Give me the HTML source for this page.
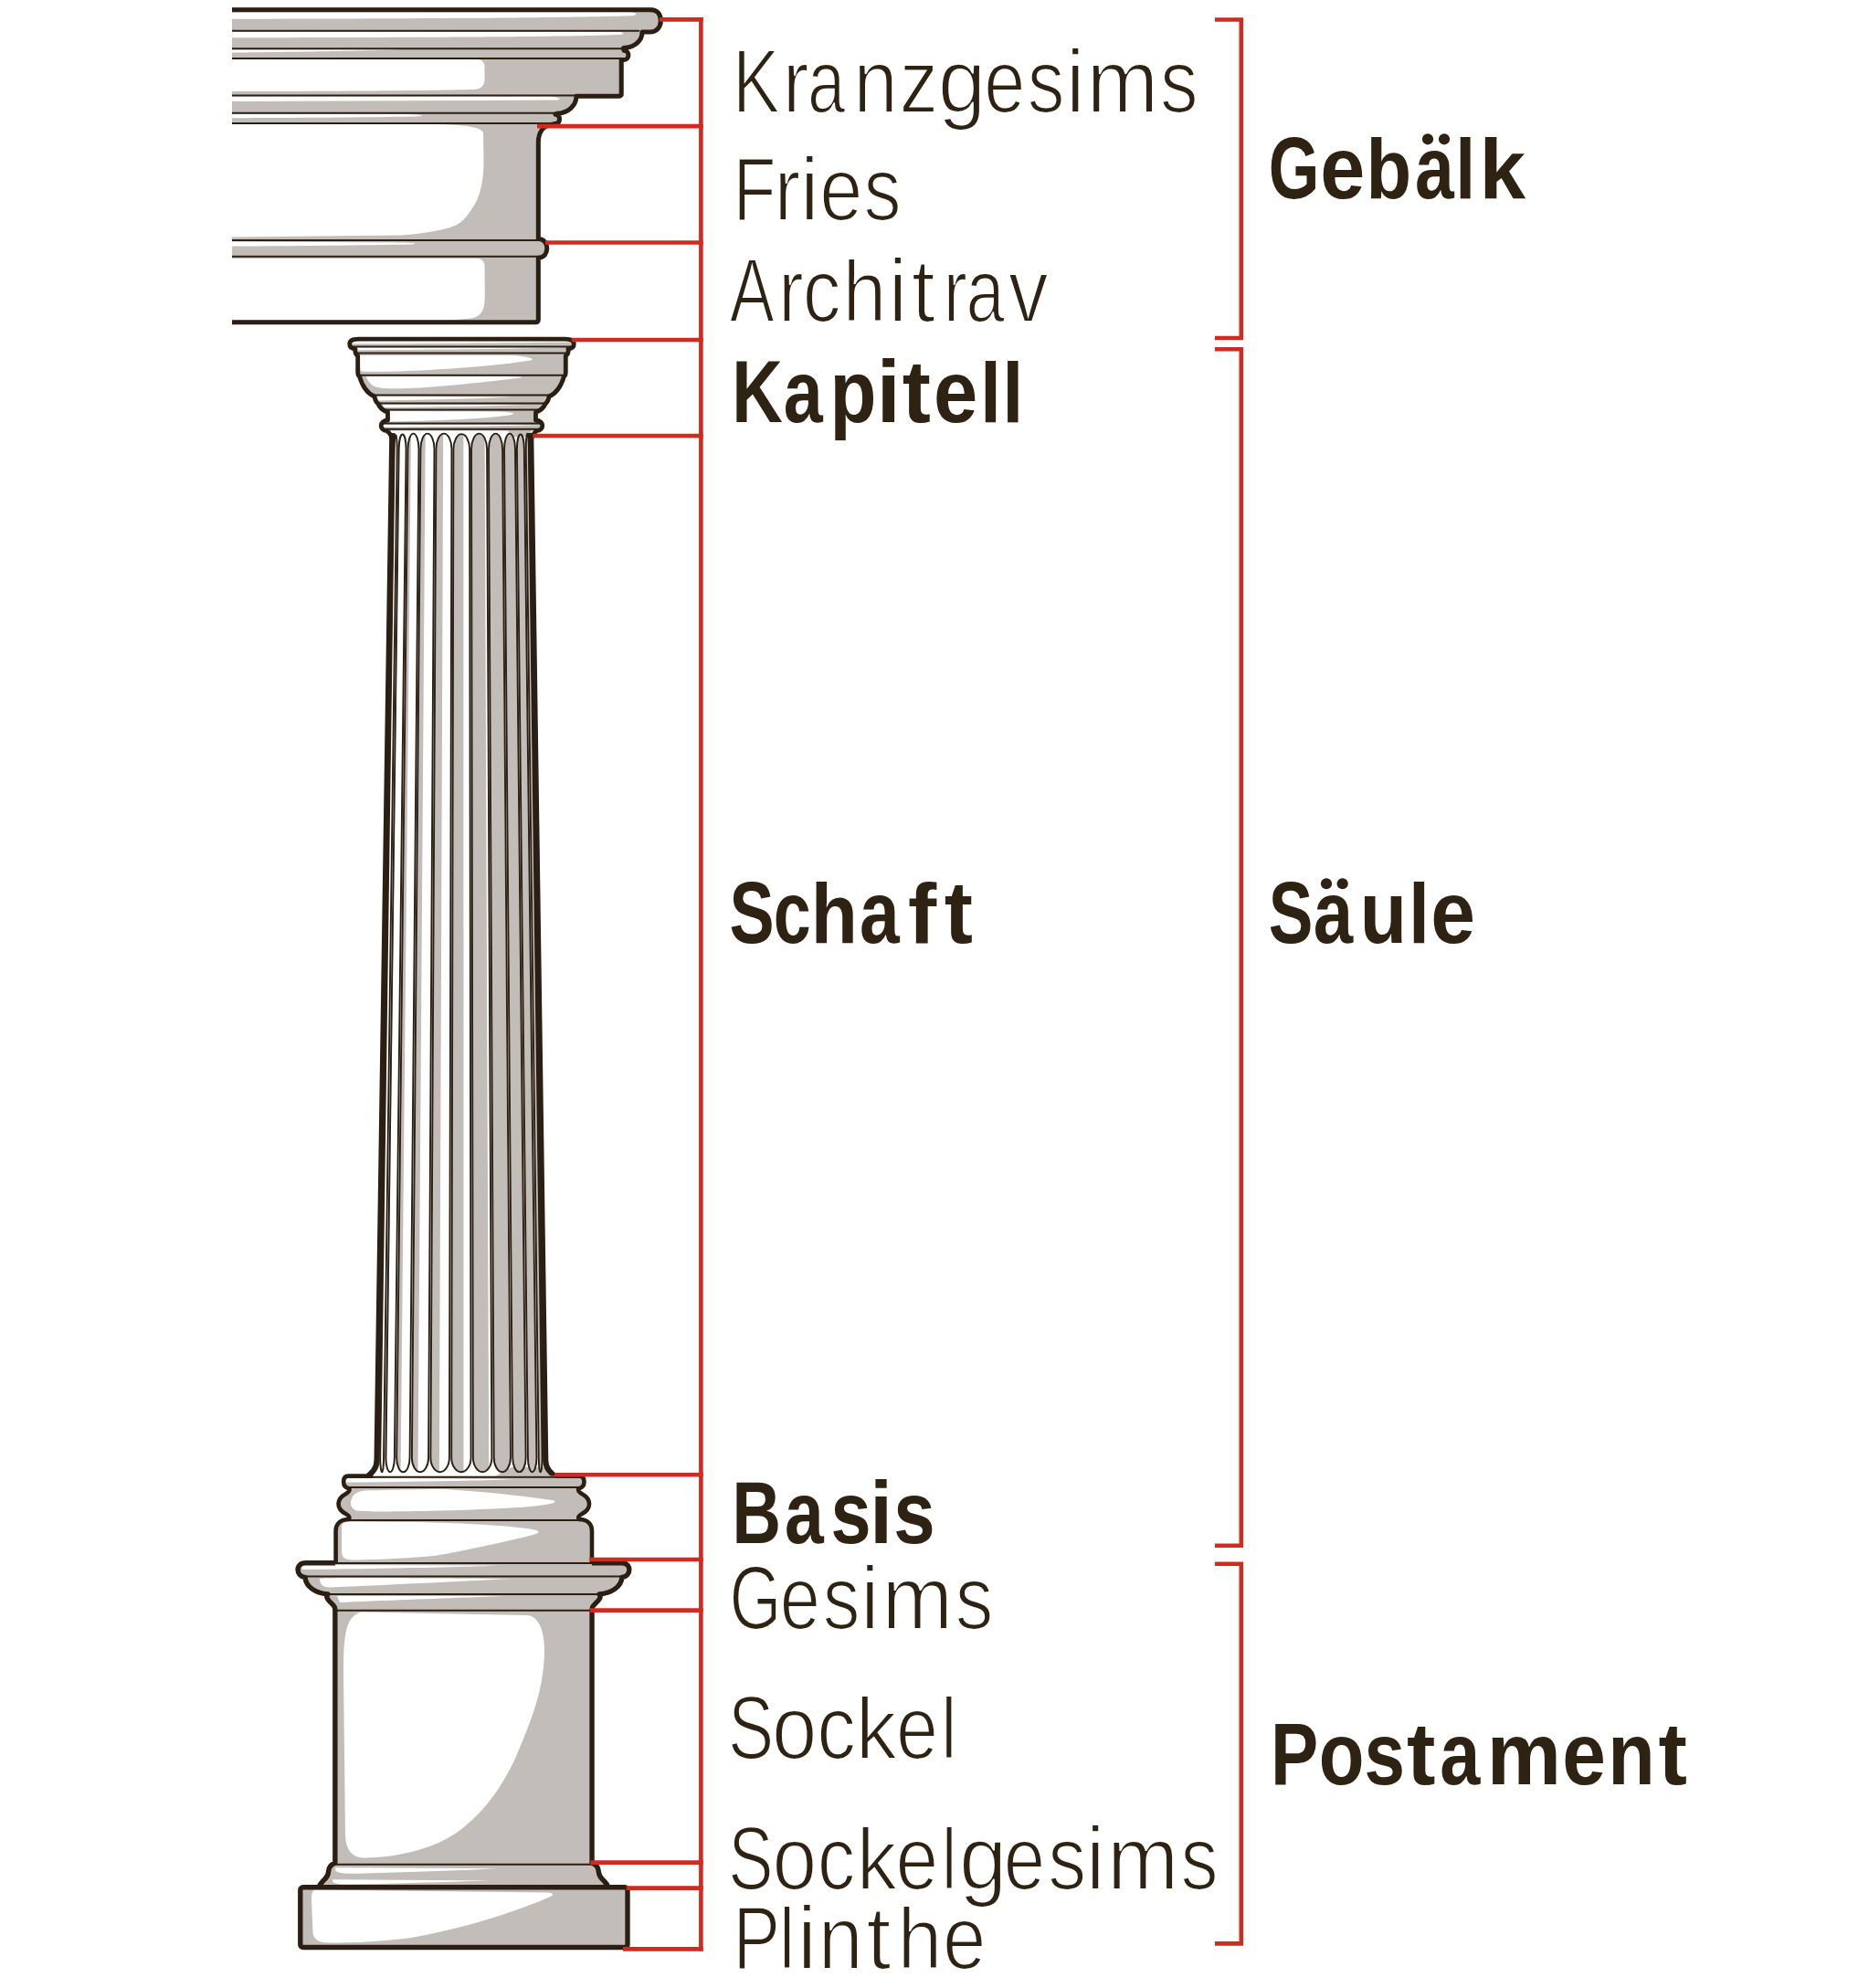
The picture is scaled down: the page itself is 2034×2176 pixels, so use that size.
<!DOCTYPE html><html><head><meta charset="utf-8"><style>html,body{margin:0;padding:0;background:#fff;}svg{display:block;}</style></head><body><svg width="2034" height="2176" viewBox="0 0 2034 2176">
<defs><clipPath id="cEnt"><path d="M254 8 L712 8 C721 8 726 15 726 22.5 C726 30 721 36.5 712 36.5 L705 36.5 C705 46 696 54 684 54.5 L685 54.5 C691 54.5 691 67 685 67 L682.5 67 L682.5 103 Q682.5 107.5 678 107.5 L632.5 107.5 C632 118 623 125.5 611 126 C616.5 126 616.5 137.5 608 137.5 L604 138 C596 139.5 591.5 146 591.5 156 L591.5 261 C604 261 604 283.5 591.5 283.5 L591.5 351 Q591.5 355 587 355 L254 355 Z"/></clipPath></defs>
<path d="M254 8 L712 8 C721 8 726 15 726 22.5 C726 30 721 36.5 712 36.5 L705 36.5 C705 46 696 54 684 54.5 L685 54.5 C691 54.5 691 67 685 67 L682.5 67 L682.5 103 Q682.5 107.5 678 107.5 L632.5 107.5 C632 118 623 125.5 611 126 C616.5 126 616.5 137.5 608 137.5 L604 138 C596 139.5 591.5 146 591.5 156 L591.5 261 C604 261 604 283.5 591.5 283.5 L591.5 351 Q591.5 355 587 355 L254 355 Z" fill="#c2bdb8"/>
<g clip-path="url(#cEnt)" fill="#fff">
<path d="M254 13.2 L690 13.2 C698 14 698 16.5 692 17.2 C650 18.5 560 20.3 254 20.8 Z"/>
<path d="M254 34.6 L676 34.8 C684 35.5 684 37.5 678 38 C640 39.5 560 41 254 41.2 Z"/>
<path d="M254 54.2 L440 54.2 C420 55.5 300 57 254 57.5 Z"/>
<path d="M254 65 L522 65 Q530 65 530.5 73 L530.5 88 Q530 97.5 519 98 C450 99.5 300 100 254 100 Z"/>
<path d="M254 105.5 L600 105.5 C612 106.5 616 108.5 610 109.5 L254 111 Z"/>
<path d="M254 124.8 L440 125 C460 125.5 470 126.5 455 127.5 C400 128.5 320 129 254 129.2 Z"/>
<path d="M254 136 L480 136 C510 137 527 139 529 145 L529.5 180 C529 200 525 215 520 223 C515 232 508 242 500 246 C490 251 470 255 440 257.5 L254 259.5 Z"/>
<path d="M254 264.5 L440 265.5 C455 266 458 266.5 450 267.5 C400 268.5 320 269.3 254 269.5 Z"/>
<path d="M254 283 L522 283 Q530 283 530.5 291 L530.8 325 C530.5 338 528 345 518 348 C505 350 490 350.3 470 350.5 L254 350.5 Z"/>
</g>
<g stroke="#2b1f14" stroke-width="2" clip-path="url(#cEnt)">
<line x1="250" y1="33.8" x2="700" y2="33.8"/>
<line x1="250" y1="53.2" x2="700" y2="53.2"/>
<line x1="250" y1="64.0" x2="700" y2="64.0"/>
<line x1="250" y1="104.5" x2="700" y2="104.5"/>
<line x1="250" y1="123.7" x2="700" y2="123.7"/>
<line x1="250" y1="134.9" x2="700" y2="134.9"/>
<line x1="250" y1="263.0" x2="700" y2="263.0"/>
<line x1="250" y1="280.8" x2="700" y2="280.8"/>
</g>
<path d="M254 10.7 L712 10.7 C719.5 10.7 723.3 15.5 723.3 22.5 C723.3 29.5 719 35 712 35 L703 35 C703 44.5 695 52 682.5 52.5 L683 55.3 C689.5 55.3 689.5 65.5 683 65.5 L680.2 65.8 L680.2 102 Q680.2 105.3 677 105.3 L631 105.3 C630.5 116 622 123.5 609.5 124.3 L608 125.2 C614 125.2 614 135.5 608 135.5 L604 136.3 C595 137.5 589.3 144.5 589.3 156 L589.3 261.5 C602 261.5 602 282.2 589.3 282.2 L589.3 349.5 Q589.3 352.8 586 352.8 L254 352.8" fill="none" stroke="#2b1f14" stroke-width="5" stroke-linejoin="round"/>
<defs><clipPath id="cShaft"><path d="M429.36 470 L581.14 470 L597.20 1598.00 C597.20 1607 602 1611 608 1616.5 L402 1616.5 C408 1611 412.58 1607 412.58 1598.00 Z"/></clipPath></defs>
<path d="M429.36 470 L581.14 470 L597.20 1598.00 C597.20 1607 602 1611 608 1616.5 L402 1616.5 C408 1611 412.58 1607 412.58 1598.00 Z" fill="#fff"/>
<g clip-path="url(#cShaft)" fill="#c2bdb8">
<path d="M555 470 L600 470 L600 478 L560 478 Z"/>
<path d="M560 1606 L615 1606 L615 1617 L540 1617 Z"/>
</g>
<defs><clipPath id="cf0"><path d="M431.59 491.60 A1.59 17.00 0 0 1 434.76 491.60 L420.04 1595.20 A1.91 16.00 0 0 1 416.22 1595.20 Z"/></clipPath></defs>
<path d="M431.59 491.60 A1.59 17.00 0 0 1 434.76 491.60 L420.04 1595.20 A1.91 16.00 0 0 1 416.22 1595.20 Z" fill="#fff"/>
<path d="M431.59 491.60 A1.59 17.00 0 0 1 434.76 491.60 L420.04 1595.20 A1.91 16.00 0 0 1 416.22 1595.20 Z" fill="none" stroke="#2b1f14" stroke-width="1.9"/>
<defs><clipPath id="cf1"><path d="M436.67 491.60 A3.96 17.00 0 0 1 444.58 491.60 L431.86 1595.20 A4.76 16.00 0 0 1 422.34 1595.20 Z"/></clipPath></defs>
<path d="M436.67 491.60 A3.96 17.00 0 0 1 444.58 491.60 L431.86 1595.20 A4.76 16.00 0 0 1 422.34 1595.20 Z" fill="#fff"/>
<path clip-path="url(#cf1)" d="M431.67 460 L437.46 460 L423.29 1620 L417.34 1620 Z" fill="#c2bdb8"/>
<path d="M436.67 491.60 A3.96 17.00 0 0 1 444.58 491.60 L431.86 1595.20 A4.76 16.00 0 0 1 422.34 1595.20 Z" fill="none" stroke="#2b1f14" stroke-width="1.9"/>
<defs><clipPath id="cf2"><path d="M446.50 491.60 A5.99 17.00 0 0 1 458.48 491.60 L448.59 1595.20 A7.21 16.00 0 0 1 434.16 1595.20 Z"/></clipPath></defs>
<path d="M446.50 491.60 A5.99 17.00 0 0 1 458.48 491.60 L448.59 1595.20 A7.21 16.00 0 0 1 434.16 1595.20 Z" fill="#fff"/>
<path clip-path="url(#cf2)" d="M441.50 460 L450.09 460 L438.49 1620 L429.16 1620 Z" fill="#c2bdb8"/>
<path d="M446.50 491.60 A5.99 17.00 0 0 1 458.48 491.60 L448.59 1595.20 A7.21 16.00 0 0 1 434.16 1595.20 Z" fill="none" stroke="#2b1f14" stroke-width="1.9"/>
<defs><clipPath id="cf3"><path d="M460.39 491.60 A7.55 17.00 0 0 1 475.49 491.60 L469.07 1595.20 A9.09 16.00 0 0 1 450.89 1595.20 Z"/></clipPath></defs>
<path d="M460.39 491.60 A7.55 17.00 0 0 1 475.49 491.60 L469.07 1595.20 A9.09 16.00 0 0 1 450.89 1595.20 Z" fill="#fff"/>
<path clip-path="url(#cf3)" d="M455.39 460 L465.82 460 L457.43 1620 L445.89 1620 Z" fill="#c2bdb8"/>
<path d="M460.39 491.60 A7.55 17.00 0 0 1 475.49 491.60 L469.07 1595.20 A9.09 16.00 0 0 1 450.89 1595.20 Z" fill="none" stroke="#2b1f14" stroke-width="1.9"/>
<defs><clipPath id="cf4"><path d="M477.40 491.60 A8.53 17.00 0 0 1 494.47 491.60 L491.92 1595.20 A10.27 16.00 0 0 1 471.37 1595.20 Z"/></clipPath></defs>
<path d="M477.40 491.60 A8.53 17.00 0 0 1 494.47 491.60 L491.92 1595.20 A10.27 16.00 0 0 1 471.37 1595.20 Z" fill="#fff"/>
<path clip-path="url(#cf4)" d="M472.40 460 L485.25 460 L480.82 1620 L466.37 1620 Z" fill="#c2bdb8"/>
<path d="M477.40 491.60 A8.53 17.00 0 0 1 494.47 491.60 L491.92 1595.20 A10.27 16.00 0 0 1 471.37 1595.20 Z" fill="none" stroke="#2b1f14" stroke-width="1.9"/>
<defs><clipPath id="cf5"><path d="M496.38 491.60 A8.87 17.00 0 0 1 514.11 491.60 L515.57 1595.20 A10.67 16.00 0 0 1 494.22 1595.20 Z"/></clipPath></defs>
<path d="M496.38 491.60 A8.87 17.00 0 0 1 514.11 491.60 L515.57 1595.20 A10.67 16.00 0 0 1 494.22 1595.20 Z" fill="#fff"/>
<path clip-path="url(#cf5)" d="M491.38 460 L507.37 460 L507.45 1620 L489.22 1620 Z" fill="#c2bdb8"/>
<path d="M496.38 491.60 A8.87 17.00 0 0 1 514.11 491.60 L515.57 1595.20 A10.67 16.00 0 0 1 494.22 1595.20 Z" fill="none" stroke="#2b1f14" stroke-width="1.9"/>
<defs><clipPath id="cf6"><path d="M516.03 491.60 A8.53 17.00 0 0 1 533.09 491.60 L538.41 1595.20 A10.27 16.00 0 0 1 517.87 1595.20 Z"/></clipPath></defs>
<path d="M516.03 491.60 A8.53 17.00 0 0 1 533.09 491.60 L538.41 1595.20 A10.27 16.00 0 0 1 517.87 1595.20 Z" fill="#fff"/>
<path clip-path="url(#cf6)" d="M511.03 460 L530.53 460 L535.33 1620 L512.87 1620 Z" fill="#c2bdb8"/>
<path d="M516.03 491.60 A8.53 17.00 0 0 1 533.09 491.60 L538.41 1595.20 A10.27 16.00 0 0 1 517.87 1595.20 Z" fill="none" stroke="#2b1f14" stroke-width="1.9"/>
<defs><clipPath id="cf7"><path d="M535.00 491.60 A7.55 17.00 0 0 1 550.10 491.60 L558.89 1595.20 A9.09 16.00 0 0 1 540.71 1595.20 Z"/></clipPath></defs>
<path d="M535.00 491.60 A7.55 17.00 0 0 1 550.10 491.60 L558.89 1595.20 A9.09 16.00 0 0 1 540.71 1595.20 Z" fill="#fff"/>
<path clip-path="url(#cf7)" d="M530.00 460 L549.35 460 L557.99 1620 L535.71 1620 Z" fill="#c2bdb8"/>
<path d="M535.00 491.60 A7.55 17.00 0 0 1 550.10 491.60 L558.89 1595.20 A9.09 16.00 0 0 1 540.71 1595.20 Z" fill="none" stroke="#2b1f14" stroke-width="1.9"/>
<defs><clipPath id="cf8"><path d="M552.02 491.60 A5.99 17.00 0 0 1 564.00 491.60 L575.62 1595.20 A7.21 16.00 0 0 1 561.20 1595.20 Z"/></clipPath></defs>
<path d="M552.02 491.60 A5.99 17.00 0 0 1 564.00 491.60 L575.62 1595.20 A7.21 16.00 0 0 1 561.20 1595.20 Z" fill="#fff"/>
<path clip-path="url(#cf8)" d="M547.02 460 L564.00 460 L575.62 1620 L556.20 1620 Z" fill="#c2bdb8"/>
<path d="M552.02 491.60 A5.99 17.00 0 0 1 564.00 491.60 L575.62 1595.20 A7.21 16.00 0 0 1 561.20 1595.20 Z" fill="none" stroke="#2b1f14" stroke-width="1.9"/>
<defs><clipPath id="cf9"><path d="M565.91 491.60 A3.96 17.00 0 0 1 573.82 491.60 L587.44 1595.20 A4.76 16.00 0 0 1 577.92 1595.20 Z"/></clipPath></defs>
<path d="M565.91 491.60 A3.96 17.00 0 0 1 573.82 491.60 L587.44 1595.20 A4.76 16.00 0 0 1 577.92 1595.20 Z" fill="#fff"/>
<path clip-path="url(#cf9)" d="M560.91 460 L573.82 460 L587.44 1620 L572.92 1620 Z" fill="#c2bdb8"/>
<path d="M565.91 491.60 A3.96 17.00 0 0 1 573.82 491.60 L587.44 1595.20 A4.76 16.00 0 0 1 577.92 1595.20 Z" fill="none" stroke="#2b1f14" stroke-width="1.9"/>
<defs><clipPath id="cf10"><path d="M575.73 491.60 A1.59 17.00 0 0 1 578.91 491.60 L593.57 1595.20 A1.91 16.00 0 0 1 589.75 1595.20 Z"/></clipPath></defs>
<path d="M575.73 491.60 A1.59 17.00 0 0 1 578.91 491.60 L593.57 1595.20 A1.91 16.00 0 0 1 589.75 1595.20 Z" fill="#fff"/>
<path clip-path="url(#cf10)" d="M570.73 460 L578.91 460 L593.57 1620 L584.75 1620 Z" fill="#c2bdb8"/>
<path d="M575.73 491.60 A1.59 17.00 0 0 1 578.91 491.60 L593.57 1595.20 A1.91 16.00 0 0 1 589.75 1595.20 Z" fill="none" stroke="#2b1f14" stroke-width="1.9"/>
<path d="M581.14 474 L597.20 1598.00 C597.20 1607 602 1611 607 1615.5" fill="none" stroke="#2b1f14" stroke-width="6.2"/>
<path d="M429.36 474 L412.58 1598.00 C412.58 1607 408 1611 403 1615.5" fill="none" stroke="#2b1f14" stroke-width="6.2"/>
<defs><clipPath id="cCap"><path d="M505.50 371.10 L618.50 371.10 C626.50 371.10 628.30 374.00 628.30 376.50 C628.30 379.50 626.00 381.50 622.00 382.00 C622.50 384.50 622.00 387.50 619.30 389.50 L619.30 407.00 C619.30 410.00 618.50 411.50 617.50 412.00 C614.50 422.00 609.50 430.50 601.00 434.00 C600.50 437.00 599.00 440.50 597.00 442.00 C596.00 444.50 593.50 448.00 588.50 450.50 L586.50 451.00 L586.50 460.00 C591.50 460.30 593.80 463.00 593.80 466.00 C593.80 469.00 591.50 471.30 587.50 471.60 L423.50 471.60 C419.50 471.30 417.20 469.00 417.20 466.00 C417.20 463.00 419.50 460.30 424.50 460.00 L424.50 451.00 L422.50 450.50 C417.50 448.00 415.00 444.50 414.00 442.00 C412.00 440.50 410.50 437.00 410.00 434.00 C401.50 430.50 396.50 422.00 393.50 412.00 C392.50 411.50 391.70 410.00 391.70 407.00 L391.70 389.50 C389.00 387.50 388.50 384.50 389.00 382.00 C385.00 381.50 382.70 379.50 382.70 376.50 C382.70 374.00 384.50 371.10 392.50 371.10 L505.50 371.10 Z"/></clipPath></defs>
<path d="M505.50 371.10 L618.50 371.10 C626.50 371.10 628.30 374.00 628.30 376.50 C628.30 379.50 626.00 381.50 622.00 382.00 C622.50 384.50 622.00 387.50 619.30 389.50 L619.30 407.00 C619.30 410.00 618.50 411.50 617.50 412.00 C614.50 422.00 609.50 430.50 601.00 434.00 C600.50 437.00 599.00 440.50 597.00 442.00 C596.00 444.50 593.50 448.00 588.50 450.50 L586.50 451.00 L586.50 460.00 C591.50 460.30 593.80 463.00 593.80 466.00 C593.80 469.00 591.50 471.30 587.50 471.60 L423.50 471.60 C419.50 471.30 417.20 469.00 417.20 466.00 C417.20 463.00 419.50 460.30 424.50 460.00 L424.50 451.00 L422.50 450.50 C417.50 448.00 415.00 444.50 414.00 442.00 C412.00 440.50 410.50 437.00 410.00 434.00 C401.50 430.50 396.50 422.00 393.50 412.00 C392.50 411.50 391.70 410.00 391.70 407.00 L391.70 389.50 C389.00 387.50 388.50 384.50 389.00 382.00 C385.00 381.50 382.70 379.50 382.70 376.50 C382.70 374.00 384.50 371.10 392.50 371.10 L505.50 371.10 Z" fill="#c2bdb8"/>
<g clip-path="url(#cCap)" fill="#fff">
<path d="M380 372.5 L628 372.5 L628 374.5 C560 375.5 450 376 380 376.3 Z"/>
<path d="M385 379.8 L625 380 C600 381.5 470 382.8 385 383.3 Z"/>
<path d="M394 389 L560 389 C575 390 585 392 582 394.2 C560 398 520 402 470 405 C430 407 400 407.5 395 406 C393 400 393 392 394 389 Z"/>
<path d="M401 412 L560 412 C572 412.5 574 413 570 413.5 C540 417 500 422 460 424.5 C430 426 415 425.5 409 422.5 C404 419 402 415 401 412 Z"/>
<path d="M412 433.5 L559 434.5 C540 436 480 437.5 414 438.5 Z"/>
<path d="M419 442.5 L575 443 C540 444.5 480 445.5 420 446 Z"/>
<path d="M425 450 L545 450.5 C560 451 566 452.5 560 454 C540 457.5 500 460 426 461.5 Z"/>
<path d="M417 464.5 L590 465 C560 466.5 480 467 417 467.5 Z"/>
</g>
<g stroke="#2b1f14" stroke-width="2" clip-path="url(#cCap)">
<line x1="370" y1="379.5" x2="640" y2="379.5"/>
<line x1="370" y1="386.6" x2="640" y2="386.6"/>
<line x1="370" y1="410.8" x2="640" y2="410.8"/>
<line x1="370" y1="432.6" x2="640" y2="432.6"/>
<line x1="370" y1="441.6" x2="640" y2="441.6"/>
<line x1="370" y1="448.5" x2="640" y2="448.5"/>
<line x1="370" y1="463.5" x2="640" y2="463.5"/>
<line x1="370" y1="469.8" x2="640" y2="469.8"/>
</g>
<path d="M428.80 480.00 C428.50 476.00 426.00 473.50 423.50 471.60 C419.50 471.30 417.20 469.00 417.20 466.00 C417.20 463.00 419.50 460.30 424.50 460.00 L424.50 451.00 L422.50 450.50 C417.50 448.00 415.00 444.50 414.00 442.00 C412.00 440.50 410.50 437.00 410.00 434.00 C401.50 430.50 396.50 422.00 393.50 412.00 C392.50 411.50 391.70 410.00 391.70 407.00 L391.70 389.50 C389.00 387.50 388.50 384.50 389.00 382.00 C385.00 381.50 382.70 379.50 382.70 376.50 C382.70 374.00 384.50 371.10 392.50 371.10 L505.50 371.10 L505.50 371.10 L618.50 371.10 C626.50 371.10 628.30 374.00 628.30 376.50 C628.30 379.50 626.00 381.50 622.00 382.00 C622.50 384.50 622.00 387.50 619.30 389.50 L619.30 407.00 C619.30 410.00 618.50 411.50 617.50 412.00 C614.50 422.00 609.50 430.50 601.00 434.00 C600.50 437.00 599.00 440.50 597.00 442.00 C596.00 444.50 593.50 448.00 588.50 450.50 L586.50 451.00 L586.50 460.00 C591.50 460.30 593.80 463.00 593.80 466.00 C593.80 469.00 591.50 471.30 587.50 471.60 C585.00 473.50 582.50 476.00 582.20 480.00" fill="none" stroke="#2b1f14" stroke-width="4.8" stroke-linejoin="round"/>
<defs><clipPath id="cBase"><path d="M507.80 1615.60 L634.30 1615.60 C638.30 1615.60 639.50 1618.50 639.50 1622.00 C639.50 1626.00 637.30 1628.50 633.30 1629.50 C632.30 1631.50 633.80 1633.00 636.80 1635.00 C643.30 1638.50 645.10 1642.00 645.10 1646.00 C645.10 1651.00 641.30 1655.00 636.30 1657.50 C633.30 1659.00 632.60 1661.00 633.80 1663.00 C642.80 1663.00 648.00 1668.00 648.00 1676.00 L648.00 1710.80 L367.60 1710.80 L367.60 1676.00 C367.60 1668.00 372.80 1663.00 381.80 1663.00 C383.00 1661.00 382.30 1659.00 379.30 1657.50 C374.30 1655.00 370.50 1651.00 370.50 1646.00 C370.50 1642.00 372.30 1638.50 378.80 1635.00 C381.80 1633.00 383.30 1631.50 382.30 1629.50 C378.30 1628.50 376.10 1626.00 376.10 1622.00 C376.10 1618.50 377.30 1615.60 381.30 1615.60 L507.80 1615.60 Z"/></clipPath></defs>
<path d="M507.80 1615.60 L634.30 1615.60 C638.30 1615.60 639.50 1618.50 639.50 1622.00 C639.50 1626.00 637.30 1628.50 633.30 1629.50 C632.30 1631.50 633.80 1633.00 636.80 1635.00 C643.30 1638.50 645.10 1642.00 645.10 1646.00 C645.10 1651.00 641.30 1655.00 636.30 1657.50 C633.30 1659.00 632.60 1661.00 633.80 1663.00 C642.80 1663.00 648.00 1668.00 648.00 1676.00 L648.00 1710.80 L367.60 1710.80 L367.60 1676.00 C367.60 1668.00 372.80 1663.00 381.80 1663.00 C383.00 1661.00 382.30 1659.00 379.30 1657.50 C374.30 1655.00 370.50 1651.00 370.50 1646.00 C370.50 1642.00 372.30 1638.50 378.80 1635.00 C381.80 1633.00 383.30 1631.50 382.30 1629.50 C378.30 1628.50 376.10 1626.00 376.10 1622.00 C376.10 1618.50 377.30 1615.60 381.30 1615.60 L507.80 1615.60 Z" fill="#c2bdb8"/>
<g clip-path="url(#cBase)" fill="#fff">
<path d="M376 1617.5 L564 1619 C520 1621 450 1622 377 1622.5 Z"/>
<path d="M384 1646 C384 1637 390 1632 400 1631.5 C440 1630.5 470 1630 485 1630 C520 1632 570 1637 604 1642 C610 1643 608 1645 602 1646 C590 1649.5 540 1652 480 1653.5 C440 1654.5 400 1655 390 1653.5 C386 1652 384 1649 384 1646 Z"/>
<path d="M374 1672 C374 1667 377 1665.5 382 1665.5 L450 1666 C500 1667 550 1669 580 1673.5 C592 1675.5 592 1678 585 1679.5 C560 1686 520 1695 477 1702.8 C440 1706.5 400 1707.5 385 1707.5 C377 1707.5 374 1704 374 1698 Z"/>
</g>
<g stroke="#2b1f14" stroke-width="2" clip-path="url(#cBase)">
<line x1="350" y1="1616.8" x2="660" y2="1616.8"/>
<line x1="350" y1="1628.0" x2="660" y2="1628.0"/>
<line x1="350" y1="1664.0" x2="660" y2="1664.0"/>
</g>
<path d="M367.60 1710.80 L367.60 1676.00 C367.60 1668.00 372.80 1663.00 381.80 1663.00 C383.00 1661.00 382.30 1659.00 379.30 1657.50 C374.30 1655.00 370.50 1651.00 370.50 1646.00 C370.50 1642.00 372.30 1638.50 378.80 1635.00 C381.80 1633.00 383.30 1631.50 382.30 1629.50 C378.30 1628.50 376.10 1626.00 376.10 1622.00 C376.10 1618.50 377.30 1615.60 381.30 1615.60 L408.30 1615.60 M607.30 1615.60 L634.30 1615.60 C638.30 1615.60 639.50 1618.50 639.50 1622.00 C639.50 1626.00 637.30 1628.50 633.30 1629.50 C632.30 1631.50 633.80 1633.00 636.80 1635.00 C643.30 1638.50 645.10 1642.00 645.10 1646.00 C645.10 1651.00 641.30 1655.00 636.30 1657.50 C633.30 1659.00 632.60 1661.00 633.80 1663.00 C642.80 1663.00 648.00 1668.00 648.00 1676.00 L648.00 1710.80" fill="none" stroke="#2b1f14" stroke-width="4.6" stroke-linejoin="round"/>
<defs><clipPath id="cPed"><path d="M507.45 1710.80 L680.45 1710.80 C685.95 1710.80 688.85 1714.00 688.85 1718.00 C688.85 1722.50 685.95 1726.00 680.95 1726.50 C679.95 1737.00 669.95 1743.50 655.95 1745.00 C658.95 1748.00 655.45 1752.00 651.45 1755.50 C648.95 1757.50 648.05 1759.50 648.05 1762.50 L648.05 2039.00 C651.45 2040.50 654.95 2043.50 655.25 2048.00 C655.45 2052.00 657.45 2055.50 660.95 2058.50 C663.45 2061.00 664.95 2063.00 665.95 2065.80 L348.95 2065.80 C349.95 2063.00 351.45 2061.00 353.95 2058.50 C357.45 2055.50 359.45 2052.00 359.65 2048.00 C359.95 2043.50 363.45 2040.50 366.85 2039.00 L366.85 1762.50 C366.85 1759.50 365.95 1757.50 363.45 1755.50 C359.45 1752.00 355.95 1748.00 358.95 1745.00 C344.95 1743.50 334.95 1737.00 333.95 1726.50 C328.95 1726.00 326.05 1722.50 326.05 1718.00 C326.05 1714.00 328.95 1710.80 334.45 1710.80 L507.45 1710.80 Z"/></clipPath></defs>
<path d="M507.45 1710.80 L680.45 1710.80 C685.95 1710.80 688.85 1714.00 688.85 1718.00 C688.85 1722.50 685.95 1726.00 680.95 1726.50 C679.95 1737.00 669.95 1743.50 655.95 1745.00 C658.95 1748.00 655.45 1752.00 651.45 1755.50 C648.95 1757.50 648.05 1759.50 648.05 1762.50 L648.05 2039.00 C651.45 2040.50 654.95 2043.50 655.25 2048.00 C655.45 2052.00 657.45 2055.50 660.95 2058.50 C663.45 2061.00 664.95 2063.00 665.95 2065.80 L348.95 2065.80 C349.95 2063.00 351.45 2061.00 353.95 2058.50 C357.45 2055.50 359.45 2052.00 359.65 2048.00 C359.95 2043.50 363.45 2040.50 366.85 2039.00 L366.85 1762.50 C366.85 1759.50 365.95 1757.50 363.45 1755.50 C359.45 1752.00 355.95 1748.00 358.95 1745.00 C344.95 1743.50 334.95 1737.00 333.95 1726.50 C328.95 1726.00 326.05 1722.50 326.05 1718.00 C326.05 1714.00 328.95 1710.80 334.45 1710.80 L507.45 1710.80 Z" fill="#c2bdb8"/>
<g clip-path="url(#cPed)" fill="#fff">
<path d="M331 1713 L545 1713.5 C520 1715 420 1717 331 1718 Z"/>
<path d="M350 1728 C352 1727 400 1727 560 1728 C500 1731 420 1735 360 1737.5 C352 1737 350 1733 350 1728 Z"/>
<path d="M369 1747 L550 1747 C500 1749 420 1752 372 1754 Z"/>
<path d="M395 1764.6 L578 1768 C590 1770 596 1785 596 1808 C595 1850 583 1880 563 1927 C545 1965 520 1995 490 2012 C465 2026 430 2033 400 2033.6 C385 2033.6 379 2025 378 2010 L376 1830 C376 1790 378 1770 395 1764.6 Z"/>
<path d="M367 2044.2 L545 2045.3 C520 2046.5 460 2049 390 2050.8 C372 2051.2 367 2049 367 2046 Z"/>
<path d="M364 2057.2 L535 2058.4 C500 2059.5 440 2061.5 380 2062.6 C368 2062.8 364 2060.5 364 2059 Z"/>
</g>
<g stroke="#2b1f14" stroke-width="2" clip-path="url(#cPed)">
<line x1="300" y1="1725.5" x2="720" y2="1725.5"/>
<line x1="300" y1="1745.0" x2="720" y2="1745.0"/>
<line x1="300" y1="1762.8" x2="720" y2="1762.8"/>
<line x1="300" y1="2040.8" x2="720" y2="2040.8"/>
</g>
<path d="M348.95 2065.80 C349.95 2063.00 351.45 2061.00 353.95 2058.50 C357.45 2055.50 359.45 2052.00 359.65 2048.00 C359.95 2043.50 363.45 2040.50 366.85 2039.00 L366.85 1762.50 C366.85 1759.50 365.95 1757.50 363.45 1755.50 C359.45 1752.00 355.95 1748.00 358.95 1745.00 C344.95 1743.50 334.95 1737.00 333.95 1726.50 C328.95 1726.00 326.05 1722.50 326.05 1718.00 C326.05 1714.00 328.95 1710.80 334.45 1710.80 L366.95 1710.80 M647.95 1710.80 L680.45 1710.80 C685.95 1710.80 688.85 1714.00 688.85 1718.00 C688.85 1722.50 685.95 1726.00 680.95 1726.50 C679.95 1737.00 669.95 1743.50 655.95 1745.00 C658.95 1748.00 655.45 1752.00 651.45 1755.50 C648.95 1757.50 648.05 1759.50 648.05 1762.50 L648.05 2039.00 C651.45 2040.50 654.95 2043.50 655.25 2048.00 C655.45 2052.00 657.45 2055.50 660.95 2058.50 C663.45 2061.00 664.95 2063.00 665.95 2065.80" fill="none" stroke="#2b1f14" stroke-width="5.4" stroke-linejoin="round"/>
<line x1="366" y1="1711" x2="649" y2="1711" stroke="#2b1f14" stroke-width="1.8"/>
<rect x="328.8" y="2065.8" width="358.2" height="65.7" rx="3" fill="#c2bdb8"/>
<path d="M346 2068.5 L600 2071.5 C608 2072.5 606 2075 598 2078 C560 2094 510 2110 450 2121 C410 2126 380 2126.5 360 2126.5 C348 2126.5 343 2122 342.5 2115 L341 2080 C341 2072 342 2068.5 346 2068.5 Z" fill="#fff"/>
<rect x="328.8" y="2065.8" width="358.2" height="65.7" rx="3" fill="none" stroke="#2b1f14" stroke-width="5.4"/>
<g stroke="#d12b20" stroke-width="4.6" fill="none" stroke-linecap="butt">
<line x1="767.4" y1="19.1" x2="767.4" y2="2135.7"/>
<line x1="722" y1="21.4" x2="769.7" y2="21.4"/>
<line x1="588" y1="138.1" x2="769.7" y2="138.1"/>
<line x1="597" y1="265.5" x2="769.7" y2="265.5"/>
<line x1="625.7" y1="372" x2="769.7" y2="372"/>
<line x1="583.2" y1="477" x2="769.7" y2="477"/>
<line x1="607" y1="1614.2" x2="769.7" y2="1614.2"/>
<line x1="645.2" y1="1707" x2="769.7" y2="1707"/>
<line x1="646" y1="1762.6" x2="769.7" y2="1762.6"/>
<line x1="646.5" y1="2038.6" x2="769.7" y2="2038.6"/>
<line x1="685.7" y1="2066.6" x2="769.7" y2="2066.6"/>
<line x1="682" y1="2133.4" x2="769.7" y2="2133.4"/>
<path d="M1330 21.5 L1358.8 21.5 L1358.8 370 L1330 370"/>
<path d="M1330 382.2 L1358.8 382.2 L1358.8 1691.7 L1330 1691.7"/>
<path d="M1330 1711.7 L1358.8 1711.7 L1358.8 2127.4 L1330 2127.4"/>
</g>
<g font-family="Liberation Sans, sans-serif" font-size="98" fill="#2e2213">
<text transform="translate(801.89 122.80) scale(0.7920 1.0000)" font-size="98.0" stroke="#fff" stroke-width="2.20">K</text>
<text transform="translate(856.74 122.80) scale(0.8824 1.0000)" font-size="98.0" stroke="#fff" stroke-width="2.20">r</text>
<text transform="translate(883.98 122.80) scale(0.7584 1.0000)" font-size="98.0" stroke="#fff" stroke-width="2.20">a</text>
<text transform="translate(934.27 122.80) scale(0.8922 1.0000)" font-size="98.0" stroke="#fff" stroke-width="2.20">n</text>
<text transform="translate(984.67 122.80) scale(0.8618 1.0000)" font-size="98.0" stroke="#fff" stroke-width="2.20">z</text>
<text transform="translate(1026.77 122.80) scale(0.9652 1.0000)" font-size="98.0" stroke="#fff" stroke-width="2.20">g</text>
<text transform="translate(1077.18 122.80) scale(0.8281 1.0000)" font-size="98.0" stroke="#fff" stroke-width="2.20">e</text>
<text transform="translate(1124.83 122.80) scale(0.8301 1.0000)" font-size="98.0" stroke="#fff" stroke-width="2.20">s</text>
<text transform="translate(1166.83 122.80) scale(0.9652 1.0000)" font-size="98.0" stroke="#fff" stroke-width="2.20">i</text>
<text transform="translate(1189.53 122.80) scale(0.9652 1.0000)" font-size="98.0" stroke="#fff" stroke-width="2.20">m</text>
<text transform="translate(1270.07 122.80) scale(0.8493 1.0000)" font-size="98.0" stroke="#fff" stroke-width="2.20">s</text>
<text transform="translate(802.55 240.80) scale(0.7860 1.0000)" font-size="98.0" stroke="#fff" stroke-width="2.20">F</text>
<text transform="translate(847.54 240.80) scale(0.8824 1.0000)" font-size="98.0" stroke="#fff" stroke-width="2.20">r</text>
<text transform="translate(875.73 240.80) scale(0.9700 1.0000)" font-size="98.0" stroke="#fff" stroke-width="2.20">i</text>
<text transform="translate(897.28 240.80) scale(0.8661 1.0000)" font-size="98.0" stroke="#fff" stroke-width="2.20">e</text>
<text transform="translate(945.40 240.80) scale(0.8373 1.0000)" font-size="98.0" stroke="#fff" stroke-width="2.20">s</text>
<text transform="translate(798.78 352.10) scale(0.7506 1.0000)" font-size="98.0" stroke="#fff" stroke-width="2.20">A</text>
<text transform="translate(851.94 352.10) scale(0.8529 1.0000)" font-size="98.0" stroke="#fff" stroke-width="2.20">r</text>
<text transform="translate(878.85 352.10) scale(0.8529 1.0000)" font-size="98.0" stroke="#fff" stroke-width="2.20">c</text>
<text transform="translate(922.47 352.10) scale(0.8775 0.9620)" font-size="98.0" stroke="#fff" stroke-width="2.20">h</text>
<text transform="translate(972.39 352.10) scale(0.9553 1.0000)" font-size="98.0" stroke="#fff" stroke-width="2.20">i</text>
<text transform="translate(997.68 352.10) scale(0.9553 1.0000)" font-size="98.0" stroke="#fff" stroke-width="2.20">t</text>
<text transform="translate(1032.44 352.10) scale(0.8109 1.0000)" font-size="98.0" stroke="#fff" stroke-width="2.20">r</text>
<text transform="translate(1057.45 352.10) scale(0.7746 1.0000)" font-size="98.0" stroke="#fff" stroke-width="2.20">a</text>
<text transform="translate(1104.02 352.10) scale(0.8910 1.0000)" font-size="98.0" stroke="#fff" stroke-width="2.20">v</text>
<text transform="translate(801.24 461.70) scale(0.7937 1.0000)" font-weight="bold" font-size="97.0">K</text>
<text transform="translate(857.81 461.70) scale(0.7962 1.0000)" font-weight="bold" font-size="97.0">a</text>
<text transform="translate(908.54 461.70) scale(0.8600 1.0000)" font-weight="bold" font-size="97.0">p</text>
<text transform="translate(959.65 461.70) scale(0.9632 1.0000)" font-weight="bold" font-size="97.0">i</text>
<text transform="translate(987.76 461.70) scale(0.9632 1.0000)" font-weight="bold" font-size="97.0">t</text>
<text transform="translate(1022.11 461.70) scale(0.8958 1.0000)" font-weight="bold" font-size="97.0">e</text>
<text transform="translate(1073.08 461.70) scale(0.8533 0.9620)" font-weight="bold" font-size="97.0">l</text>
<text transform="translate(1097.14 461.70) scale(0.8600 0.9620)" font-weight="bold" font-size="97.0">l</text>
<text transform="translate(798.59 1032.10) scale(0.7590 1.0000)" font-weight="bold" font-size="97.0">S</text>
<text transform="translate(846.83 1032.10) scale(0.7590 1.0000)" font-weight="bold" font-size="97.0">c</text>
<text transform="translate(887.83 1032.10) scale(0.8625 0.9620)" font-weight="bold" font-size="97.0">h</text>
<text transform="translate(941.08 1032.10) scale(0.8094 1.0000)" font-weight="bold" font-size="97.0">a</text>
<text transform="translate(994.08 1032.10) scale(0.9660 0.9620)" font-weight="bold" font-size="97.0">f</text>
<text transform="translate(1033.71 1032.10) scale(0.9660 1.0000)" font-weight="bold" font-size="97.0">t</text>
<text transform="translate(801.62 1689.00) scale(0.7633 1.0000)" font-weight="bold" font-size="97.0">B</text>
<text transform="translate(859.12 1689.00) scale(0.7925 1.0000)" font-weight="bold" font-size="97.0">a</text>
<text transform="translate(909.55 1689.00) scale(0.8170 1.0000)" font-weight="bold" font-size="97.0">s</text>
<text transform="translate(952.25 1689.00) scale(0.9151 1.0000)" font-weight="bold" font-size="97.0">i</text>
<text transform="translate(978.17 1689.00) scale(0.8426 1.0000)" font-weight="bold" font-size="97.0">s</text>
<text transform="translate(798.42 1782.80) scale(0.7474 1.0000)" font-size="98.0" stroke="#fff" stroke-width="2.20">G</text>
<text transform="translate(853.87 1782.80) scale(0.8103 1.0000)" font-size="98.0" stroke="#fff" stroke-width="2.20">e</text>
<text transform="translate(900.63 1782.80) scale(0.8301 1.0000)" font-size="98.0" stroke="#fff" stroke-width="2.20">s</text>
<text transform="translate(941.99 1782.80) scale(0.9512 1.0000)" font-size="98.0" stroke="#fff" stroke-width="2.20">i</text>
<text transform="translate(965.50 1782.80) scale(0.9512 1.0000)" font-size="98.0" stroke="#fff" stroke-width="2.20">m</text>
<text transform="translate(1045.87 1782.80) scale(0.8493 1.0000)" font-size="98.0" stroke="#fff" stroke-width="2.20">s</text>
<text transform="translate(797.00 1925.40) scale(0.7678 1.0000)" font-size="98.0" stroke="#fff" stroke-width="2.20">S</text>
<text transform="translate(844.98 1925.40) scale(0.9063 1.0000)" font-size="98.0" stroke="#fff" stroke-width="2.20">o</text>
<text transform="translate(894.15 1925.40) scale(0.8725 1.0000)" font-size="98.0" stroke="#fff" stroke-width="2.20">c</text>
<text transform="translate(936.76 1925.40) scale(0.9211 0.9620)" font-size="98.0" stroke="#fff" stroke-width="2.20">k</text>
<text transform="translate(981.00 1925.40) scale(0.8438 1.0000)" font-size="98.0" stroke="#fff" stroke-width="2.20">e</text>
<text transform="translate(1029.97 1925.40) scale(0.8077 0.9620)" font-size="98.0" stroke="#fff" stroke-width="2.20">l</text>
<text transform="translate(797.24 2068.40) scale(0.7543 1.0000)" font-size="98.0" stroke="#fff" stroke-width="2.20">S</text>
<text transform="translate(845.45 2068.40) scale(0.8929 1.0000)" font-size="98.0" stroke="#fff" stroke-width="2.20">o</text>
<text transform="translate(894.67 2068.40) scale(0.8480 1.0000)" font-size="98.0" stroke="#fff" stroke-width="2.20">c</text>
<text transform="translate(937.80 2068.40) scale(0.9019 0.9620)" font-size="98.0" stroke="#fff" stroke-width="2.20">k</text>
<text transform="translate(980.53 2068.40) scale(0.8571 1.0000)" font-size="98.0" stroke="#fff" stroke-width="2.20">e</text>
<text transform="translate(1030.64 2068.40) scale(0.7692 0.9620)" font-size="98.0" stroke="#fff" stroke-width="2.20">l</text>
<text transform="translate(1050.11 2068.40) scale(0.9600 1.0000)" font-size="98.0" stroke="#fff" stroke-width="2.20">g</text>
<text transform="translate(1098.75 2068.40) scale(0.8326 1.0000)" font-size="98.0" stroke="#fff" stroke-width="2.20">e</text>
<text transform="translate(1147.15 2068.40) scale(0.8541 1.0000)" font-size="98.0" stroke="#fff" stroke-width="2.20">s</text>
<text transform="translate(1188.84 2068.40) scale(0.9600 1.0000)" font-size="98.0" stroke="#fff" stroke-width="2.20">i</text>
<text transform="translate(1212.09 2068.40) scale(0.9600 1.0000)" font-size="98.0" stroke="#fff" stroke-width="2.20">m</text>
<text transform="translate(1292.40 2068.40) scale(0.8373 1.0000)" font-size="98.0" stroke="#fff" stroke-width="2.20">s</text>
<text transform="translate(802.42 2155.20) scale(0.7894 1.0000)" font-size="98.0" stroke="#fff" stroke-width="2.20">P</text>
<text transform="translate(852.77 2155.20) scale(0.8077 0.9620)" font-size="98.0" stroke="#fff" stroke-width="2.20">l</text>
<text transform="translate(872.45 2155.20) scale(1.0047 1.0000)" font-size="98.0" stroke="#fff" stroke-width="2.20">i</text>
<text transform="translate(895.81 2155.20) scale(0.8995 1.0000)" font-size="98.0" stroke="#fff" stroke-width="2.20">n</text>
<text transform="translate(948.28 2155.20) scale(1.0047 1.0000)" font-size="98.0" stroke="#fff" stroke-width="2.20">t</text>
<text transform="translate(982.53 2155.20) scale(0.8971 0.9620)" font-size="98.0" stroke="#fff" stroke-width="2.20">h</text>
<text transform="translate(1032.06 2155.20) scale(0.8705 1.0000)" font-size="98.0" stroke="#fff" stroke-width="2.20">e</text>
<text transform="translate(1388.78 216.70) scale(0.7374 1.0000)" font-weight="bold" font-size="97.0">G</text>
<text transform="translate(1445.28 216.70) scale(0.9083 1.0000)" font-weight="bold" font-size="97.0">e</text>
<text transform="translate(1495.47 216.70) scale(0.8380 0.9620)" font-weight="bold" font-size="97.0">b</text>
<circle cx="1563.00" cy="152.30" r="6.1"/>
<circle cx="1581.00" cy="152.30" r="6.1"/>
<text transform="translate(1548.92 216.70) scale(0.7925 1.0000)" font-weight="bold" font-size="97.0">a</text>
<text transform="translate(1593.22 216.70) scale(0.8133 0.9620)" font-weight="bold" font-size="97.0">l</text>
<text transform="translate(1619.57 216.70) scale(0.9386 0.9620)" font-weight="bold" font-size="97.0">k</text>
<text transform="translate(1388.80 1032.00) scale(0.7509 1.0000)" font-weight="bold" font-size="97.0">S</text>
<circle cx="1452.00" cy="967.25" r="6.1"/>
<circle cx="1469.65" cy="967.25" r="6.1"/>
<text transform="translate(1437.69 1032.00) scale(0.8038 1.0000)" font-weight="bold" font-size="97.0">a</text>
<text transform="translate(1488.70 1032.00) scale(0.8660 1.0000)" font-weight="bold" font-size="97.0">u</text>
<text transform="translate(1541.98 1032.00) scale(0.8533 0.9620)" font-weight="bold" font-size="97.0">l</text>
<text transform="translate(1566.19 1032.00) scale(0.9042 1.0000)" font-weight="bold" font-size="97.0">e</text>
<text transform="translate(1390.96 1952.90) scale(0.8071 1.0000)" font-weight="bold" font-size="97.0">P</text>
<text transform="translate(1443.68 1952.90) scale(0.8396 1.0000)" font-weight="bold" font-size="97.0">o</text>
<text transform="translate(1493.42 1952.90) scale(0.8255 1.0000)" font-weight="bold" font-size="97.0">s</text>
<text transform="translate(1539.90 1952.90) scale(0.9730 1.0000)" font-weight="bold" font-size="97.0">t</text>
<text transform="translate(1576.27 1952.90) scale(0.8170 1.0000)" font-weight="bold" font-size="97.0">a</text>
<text transform="translate(1627.84 1952.90) scale(0.9427 1.0000)" font-weight="bold" font-size="97.0">m</text>
<text transform="translate(1710.25 1952.90) scale(0.8833 1.0000)" font-weight="bold" font-size="97.0">e</text>
<text transform="translate(1760.19 1952.90) scale(0.8687 1.0000)" font-weight="bold" font-size="97.0">n</text>
<text transform="translate(1815.60 1952.90) scale(0.9730 1.0000)" font-weight="bold" font-size="97.0">t</text>
</g></svg></body></html>
